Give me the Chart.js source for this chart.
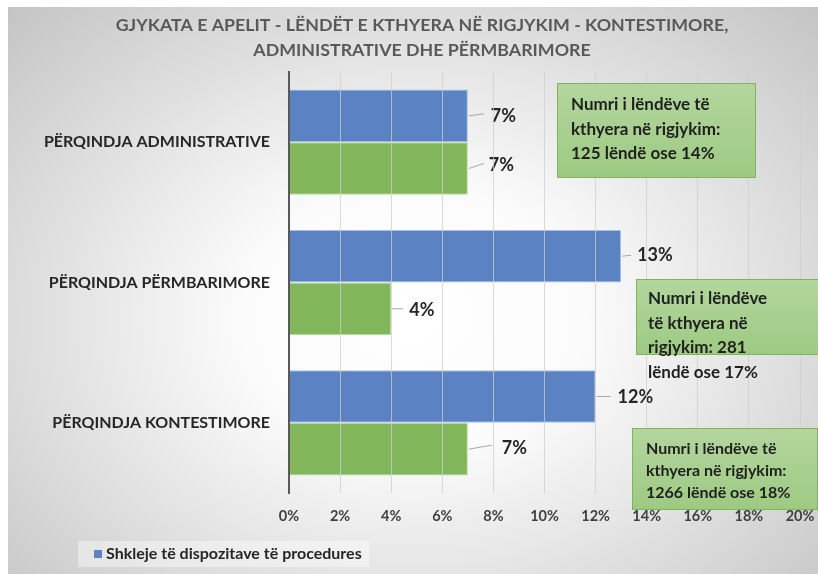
<!DOCTYPE html>
<html>
<head>
<meta charset="utf-8">
<script src="https://cdn.jsdelivr.net/npm/chart.js@4"></script>
<style>
  html, body { margin: 0; padding: 0; background: #fff; }
  #frame {
    position: absolute; left: 8px; top: 7px; width: 810px; height: 567px;
    background: radial-gradient(farthest-corner at 50% 55%, #ffffff 0%, #fbfbfb 30%, #c4c4c4 100%);
  }
  #wrap { position: absolute; left: 0; top: 0; width: 818px; height: 574px; }
</style>
</head>
<body>
<div id="frame"></div>
<div id="wrap"><canvas id="chart"></canvas></div>
<script>
const titleLines = [
    'GJYKATA E APELIT - LËNDËT E KTHYERA NË RIGJYKIM - KONTESTIMORE,',
    'ADMINISTRATIVE DHE PËRMBARIMORE'
];
const categories = ['PËRQINDJA ADMINISTRATIVE', 'PËRQINDJA PËRMBARIMORE', 'PËRQINDJA KONTESTIMORE'];
const procedureValues = [7, 13, 12];   // blue
const otherValues = [7, 4, 7];         // green
const procedureLabel = 'Shkleje të dispozitave të procedures';
const noteTexts = [
    ['Numri i lëndëve të', 'kthyera në rigjykim:', '125 lëndë ose 14%'],
    ['Numri i lëndëve', 'të kthyera në', 'rigjykim: 281', 'lëndë ose 17%'],
    ['Numri i lëndëve të', 'kthyera në rigjykim:', '1266 lëndë ose 18%']
];

const FONT = 'Lato, "Open Sans", sans-serif';
const BLUE = '#5b83c3';
const GREEN = '#82b65b';

// leader line end and text start, relative to the bar tip
const labelOffsets = [
    [{lx: 16, ly: -2, tx: 23, ty: 0}, {lx: 16, ly: -5, tx: 21, ty: -3}],
    [{lx: 10, ly: -1, tx: 16, ty: -1}, {lx: 12, ly: 0, tx: 18, ty: 1}],
    [{lx: 15, ly: 0, tx: 22, ty: 1}, {lx: 24, ly: -4, tx: 34, ty: -1}]
];

// note boxes (annotation layout)
const noteBoxes = [
    {x: 557, y: 83, w: 199, h: 95, size: 17, tx: 571, ty: 105, lh: 24.5},
    {x: 636, y: 279, w: 190, h: 76, size: 17, tx: 648, ty: 299, lh: 24.5},
    {x: 632, y: 428, w: 186, h: 82, size: 16, tx: 646, ty: 449, lh: 22}
];

const overlayPlugin = {
    id: 'overlay',
    beforeDraw(chart) {
        const ctx = chart.ctx;
        ctx.save();
        ctx.fillStyle = '#595959';
        ctx.font = 'bold 17.8px ' + FONT;
        ctx.textAlign = 'center';
        ctx.textBaseline = 'middle';
        titleLines.forEach((t, i) => ctx.fillText(t, 422, 25 + i * 25));
        ctx.restore();
    },
    afterDatasetsDraw(chart) {
        const ctx = chart.ctx;
        ctx.save();
        ctx.font = 'bold 18px ' + FONT;
        ctx.textBaseline = 'middle';
        ctx.textAlign = 'left';
        chart.data.datasets.forEach((ds, di) => {
            chart.getDatasetMeta(di).data.forEach((bar, i) => {
                const o = labelOffsets[i][di];
                const x = bar.x, y = bar.y;
                ctx.strokeStyle = '#a6a6a6';
                ctx.lineWidth = 1;
                ctx.beginPath();
                ctx.moveTo(x + 1, y);
                ctx.lineTo(x + o.lx, y + o.ly);
                ctx.stroke();
                ctx.fillStyle = '#262626';
                ctx.fillText(ds.data[i] + '%', x + o.tx, y + o.ty);
            });
        });
        ctx.restore();
    },
    afterDraw(chart) {
        const ctx = chart.ctx;
        ctx.save();
        noteBoxes.forEach((b, k) => {
            const g = ctx.createLinearGradient(0, b.y, 0, b.y + b.h);
            g.addColorStop(0, '#b3d69e');
            g.addColorStop(1, '#9dca82');
            ctx.fillStyle = g;
            ctx.fillRect(b.x, b.y, b.w, b.h);
            ctx.strokeStyle = '#7fb458';
            ctx.lineWidth = 1;
            ctx.strokeRect(b.x + 0.5, b.y + 0.5, b.w - 1, b.h - 1);
            ctx.fillStyle = '#1f1f1f';
            ctx.font = 'bold ' + b.size + 'px ' + FONT;
            ctx.textBaseline = 'middle';
            noteTexts[k].forEach((t, j) => ctx.fillText(t, b.tx, b.ty + j * b.lh));
        });
        // legend
        ctx.fillStyle = 'rgba(255,255,255,0.4)';
        ctx.fillRect(78, 541, 291, 26);
        ctx.fillStyle = BLUE;
        ctx.fillRect(94, 550, 8, 8);
        ctx.fillStyle = '#262626';
        ctx.font = 'bold 16px ' + FONT;
        ctx.textBaseline = 'middle';
        ctx.fillText(procedureLabel, 106, 554);
        ctx.restore();
    }
};

new Chart(document.getElementById('chart'), {
    type: 'bar',
    data: {
        labels: categories,
        datasets: [{
            label: procedureLabel,
            data: procedureValues,
            backgroundColor: BLUE,
            borderColor: '#a9c1e6',
            borderWidth: 1,
            barPercentage: 1,
            categoryPercentage: 0.75
        }, {
            label: 'Të tjera',
            data: otherValues,
            backgroundColor: GREEN,
            borderColor: '#b8dca3',
            borderWidth: 1,
            barPercentage: 1,
            categoryPercentage: 0.75
        }]
    },
    options: {
        indexAxis: 'y',
        responsive: true,
        maintainAspectRatio: false,
        animation: false,
        layout: { padding: { top: 72, right: 18, bottom: 41, left: 0 } },
        plugins: {
            legend: { display: false },
            tooltip: { enabled: false },
            title: { display: false }
        },
        scales: {
            x: {
                min: 0,
                max: 20,
                ticks: {
                    stepSize: 2,
                    padding: 15,
                    color: '#404040',
                    font: { family: FONT, size: 14.5, weight: 'bold' },
                    callback: v => v + '%'
                },
                grid: { color: 'rgba(205,205,205,0.75)', drawTicks: false, z: 1 },
                border: { display: false },
                afterFit: scale => {
                    scale.height = 40;
                    scale.paddingLeft = 0;
                    scale.paddingRight = 0;
                }
            },
            y: {
                ticks: {
                    padding: 11,
                    color: '#262626',
                    font: { family: FONT, size: 16, weight: 'bold' }
                },
                grid: { display: false },
                border: { color: '#595959', width: 2, z: 2 },
                afterFit: scale => { scale.width = 289; }
            }
        }
    },
    plugins: [overlayPlugin]
});
</script>
</body>
</html>
